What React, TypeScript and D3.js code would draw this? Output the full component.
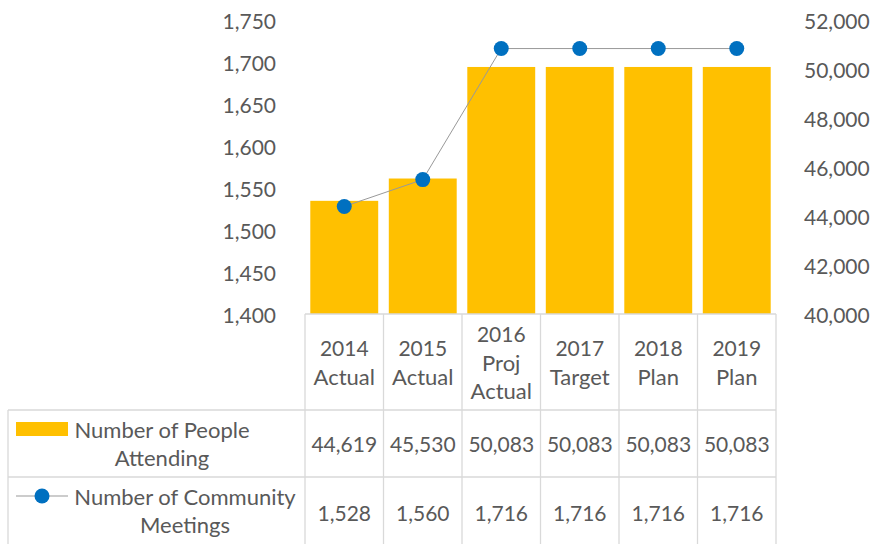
import React from "react";
import * as d3 from "d3";

const categories: string[][] = [
  ["2014", "Actual"],
  ["2015", "Actual"],
  ["2016", "Proj", "Actual"],
  ["2017", "Target"],
  ["2018", "Plan"],
  ["2019", "Plan"],
];
const peopleAttending: number[] = [44619, 45530, 50083, 50083, 50083, 50083];
const communityMeetings: number[] = [1528, 1560, 1716, 1716, 1716, 1716];
const leftTicks: number[] = [1400, 1450, 1500, 1550, 1600, 1650, 1700, 1750];
const rightTicks: number[] = [40000, 42000, 44000, 46000, 48000, 50000, 52000];
const seriesNames: string[][] = [
  ["Number of People", "Attending"],
  ["Number of Community", "Meetings"],
];

const W = 870;
const H = 544;
const plotLeft = 305;
const plotRight = 776;
const plotTop = 20;
const plotBottom = 314;
const headerBottom = 410;
const row1Bottom = 477;
const tableLeft = 8;
const FONT = "Lato, 'Open Sans', sans-serif";
const TEXT = "#595959";
const GRID = "#d9d9d9";
const BAR = "#FFC000";
const MARK = "#0070C0";
const FS = 21;
const FSW = 22;

export default function App() {
  const keys = categories.map((c) => c.join(" "));
  const x = d3
    .scaleBand<string>()
    .domain(keys)
    .range([plotLeft, plotRight])
    .paddingInner(0.135)
    .paddingOuter(0.0675);
  const yL = d3.scaleLinear().domain([1400, 1750]).range([plotBottom, plotTop]);
  const yR = d3.scaleLinear().domain([40000, 52000]).range([plotBottom, plotTop]);
  const fmt = d3.format(",");
  const step = x.step();
  const colEdges = keys.map((k) => (x(k) as number) - (step - x.bandwidth()) / 2);
  colEdges.push(plotRight);

  const line = d3
    .line<number>()
    .x((_, i) => (x(keys[i]) as number) + x.bandwidth() / 2)
    .y((d) => yL(d));

  const lh = 28.5;

  return (
    <svg width={W} height={H} style={{ position: "absolute", left: 0, top: 0 }} fontFamily={FONT}>
      <rect x={0} y={0} width={W} height={H} fill="#fff" />
      {peopleAttending.map((v, i) => (
        <rect
          key={"b" + i}
          x={x(keys[i])}
          y={yR(v)}
          width={x.bandwidth()}
          height={plotBottom - yR(v)}
          fill={BAR}
        />
      ))}
      <path d={line(communityMeetings) || ""} fill="none" stroke="#999" strokeWidth={1} />
      {communityMeetings.map((v, i) => (
        <circle
          key={"c" + i}
          cx={(x(keys[i]) as number) + x.bandwidth() / 2}
          cy={yL(v)}
          r={7.5}
          fill={MARK}
        />
      ))}
      {leftTicks.map((t) => (
        <text key={"l" + t} x={276} y={yL(t)} textAnchor="end" dominantBaseline="central" fontSize={FS} fill={TEXT}>
          {fmt(t)}
        </text>
      ))}
      {rightTicks.map((t) => (
        <text key={"r" + t} x={804} y={yR(t)} textAnchor="start" dominantBaseline="central" fontSize={FS} fill={TEXT}>
          {fmt(t)}
        </text>
      ))}
      <g stroke={GRID} strokeWidth={1.3} fill="none">
        <line x1={plotLeft} x2={plotRight} y1={plotBottom} y2={plotBottom} />
        <line x1={tableLeft} x2={plotRight} y1={headerBottom} y2={headerBottom} />
        <line x1={tableLeft} x2={plotRight} y1={row1Bottom} y2={row1Bottom} />
        <line x1={tableLeft} x2={tableLeft} y1={headerBottom} y2={H} />
        {colEdges.map((e, i) => (
          <line key={"v" + i} x1={e} x2={e} y1={plotBottom} y2={H} />
        ))}
      </g>
      {categories.map((c, i) => {
        const cx = (x(keys[i]) as number) + x.bandwidth() / 2;
        const mid = (plotBottom + headerBottom) / 2;
        const start = mid - ((c.length - 1) * lh) / 2;
        return c.map((s, j) => (
          <text key={"h" + i + j} x={cx} y={start + j * lh} textAnchor="middle" dominantBaseline="central" fontSize={j === 0 ? FS : FSW} fill={TEXT}>
            {s}
          </text>
        ));
      })}
      {peopleAttending.map((v, i) => (
        <text key={"v1" + i} x={(x(keys[i]) as number) + x.bandwidth() / 2} y={(headerBottom + row1Bottom) / 2} textAnchor="middle" dominantBaseline="central" fontSize={FS} fill={TEXT}>
          {fmt(v)}
        </text>
      ))}
      {communityMeetings.map((v, i) => (
        <text key={"v2" + i} x={(x(keys[i]) as number) + x.bandwidth() / 2} y={512} textAnchor="middle" dominantBaseline="central" fontSize={FS} fill={TEXT}>
          {fmt(v)}
        </text>
      ))}
      <rect x={16} y={422} width={52} height={14} fill={BAR} />
      <line x1={16} x2={68} y1={496} y2={496} stroke="#999" strokeWidth={1} />
      <circle cx={42} cy={496} r={7.5} fill={MARK} />
      {seriesNames[0].map((s, j) => (
        <text key={"n0" + j} x={162} y={429 + j * lh} textAnchor="middle" dominantBaseline="central" fontSize={FSW} fill={TEXT}>
          {s}
        </text>
      ))}
      {seriesNames[1].map((s, j) => (
        <text key={"n1" + j} x={185} y={496 + j * lh} textAnchor="middle" dominantBaseline="central" fontSize={FSW} fill={TEXT}>
          {s}
        </text>
      ))}
    </svg>
  );
}
